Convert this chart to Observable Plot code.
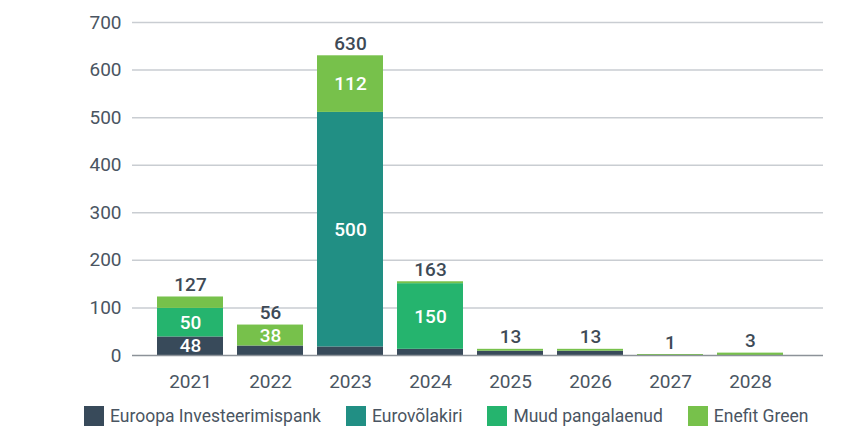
<!DOCTYPE html>
<html>
<head>
<meta charset="utf-8">
<script src="https://cdn.jsdelivr.net/npm/d3@7"></script>
<script src="https://cdn.jsdelivr.net/npm/@observablehq/plot@0.6"></script>
<style>
  body { margin: 0; background: #fff; font-family: Roboto, sans-serif; }
  #legend { display: flex; gap: 25px; padding-left: 84px; margin-top: 11px; align-items: center; }
  .item { display: flex; align-items: center; gap: 6px; font-size: 17.5px; color: #4a5562; }
  .sw { width: 20px; height: 20px; display: inline-block; }
</style>
</head>
<body>
<div id="chart"></div>
<div id="legend"></div>
<script>
const years = ["2021", "2022", "2023", "2024", "2025", "2026", "2027", "2028"];
const seriesNames = ["Euroopa Investeerimispank", "Eurovõlakiri", "Muud pangalaenud", "Enefit Green"];
const colors = ["#384a5a", "#218f84", "#25b46e", "#77c14b"];

// bar heights
const eib    = [39, 20, 18, 13, 9, 9, 0, 0];
const euro   = [0, 0, 493, 0, 0, 0, 0, 0];
const muud   = [60, 0, 0, 138, 0, 0, 0, 0];
const enefit = [24, 44, 119, 4, 4, 4, 2, 5];

// printed labels
const eibLabels    = [48, null, null, null, null, null, null, null];
const euroLabels   = [null, null, 500, null, null, null, null, null];
const muudLabels   = [50, null, null, 150, null, null, null, null];
const enefitLabels = [null, 38, 112, null, null, null, null, null];
const totalLabels  = [127, 56, 630, 163, 13, 13, 1, 3];

const yTicks = [0, 100, 200, 300, 400, 500, 600, 700];

const seriesValues = [eib, euro, muud, enefit];
const seriesLabels = [eibLabels, euroLabels, muudLabels, enefitLabels];

const rows = [];
seriesNames.forEach((s, si) => {
  years.forEach((y, i) => {
    rows.push({year: y, series: s, value: seriesValues[si][i], label: seriesLabels[si][i]});
  });
});
const totals = years.map((y, i) => ({
  year: y,
  top: d3.sum(seriesValues, v => v[i]),
  label: totalLabels[i]
}));

const chart = Plot.plot({
  width: 864,
  height: 395,
  marginLeft: 132,
  marginRight: 41,
  marginTop: 22,
  marginBottom: 40,
  style: {fontFamily: "Roboto, sans-serif", fontSize: "19px", color: "#4a5562", background: "#fff"},
  x: {domain: years, paddingInner: 0.18, paddingOuter: 0.38, align: 0.38, label: null, tickSize: 0, tickPadding: 19},
  y: {domain: [0, 700], ticks: yTicks, label: null, tickSize: 0, tickPadding: 11},
  color: {domain: seriesNames, range: colors},
  marks: [
    Plot.gridY(yTicks.filter(t => t > 0), {stroke: "#c9cdd2", strokeOpacity: 1, strokeWidth: 1.5}),
    Plot.barY(rows, {x: "year", y: "value", fill: "series", order: seriesNames}),
    Plot.ruleY([0], {stroke: "#8c9299", strokeWidth: 1.5}),
    Plot.text(rows, Plot.stackY({x: "year", y: "value", z: "series", order: seriesNames, text: "label", fill: "#fff", fontWeight: 500, fontSize: 19})),
    Plot.text(totals, {x: "year", y: "top", text: "label", dy: -12, fill: "#3e4a56", fontWeight: 500, fontSize: 19})
  ]
});
document.getElementById("chart").appendChild(chart);

const legend = document.getElementById("legend");
seriesNames.forEach((s, i) => {
  const it = document.createElement("div");
  it.className = "item";
  const sw = document.createElement("span");
  sw.className = "sw";
  sw.style.background = colors[i];
  const t = document.createElement("span");
  t.textContent = s;
  it.appendChild(sw);
  it.appendChild(t);
  legend.appendChild(it);
});
</script>
</body>
</html>
